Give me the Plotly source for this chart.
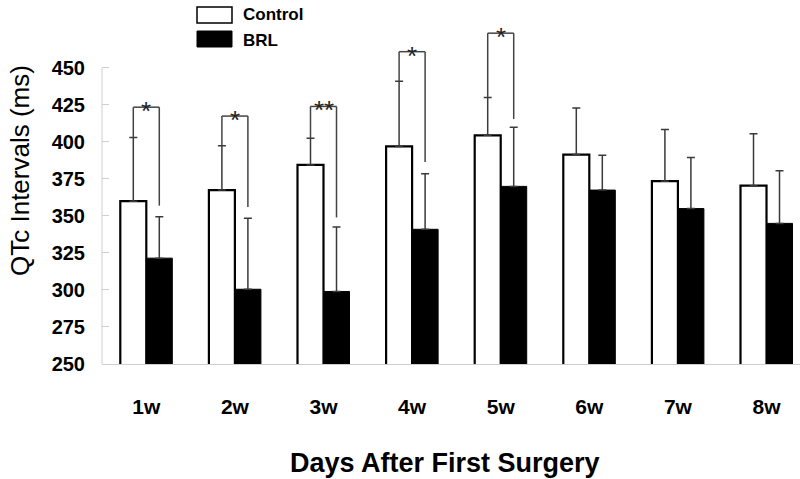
import plotly.graph_objects as go

weeks = ["1w", "2w", "3w", "4w", "5w", "6w", "7w", "8w"]
control_mean = [360, 367.5, 384.5, 397, 404.5, 391.5, 373.5, 370.5]
control_sd = [43, 30, 18, 44, 25.5, 31.5, 35, 35]
brl_mean = [321.5, 300.5, 299, 341, 370, 367.5, 355, 345]
brl_sd = [28, 48, 43.5, 37.5, 40, 23.5, 34.5, 35.5]
sig_labels = ["*", "*", "**", "*", "*"]
sig_top = [423.5, 417.5, 424, 461, 473.5]
sig_right_end = [357, 356, 349, 386.5, 415.5]
y_ticks = [250, 275, 300, 325, 350, 375, 400, 425, 450]

FONT = "Liberation Sans, Arial, sans-serif"
BARGAP = 0.413
OFF = (1 - BARGAP) / 4
x_idx = list(range(len(weeks)))

fig = go.Figure()
err_style = dict(type="data", symmetric=False, arrayminus=[0] * len(weeks),
                 color="#3a3a3a", thickness=1.5, width=4)
fig.add_trace(go.Bar(
    x=x_idx, y=control_mean, name="Control",
    marker=dict(color="white", line=dict(color="black", width=2.2)),
    error_y=dict(array=control_sd, **err_style), showlegend=False))
fig.add_trace(go.Bar(
    x=x_idx, y=brl_mean, name="BRL",
    marker=dict(color="black", line=dict(color="black", width=1)),
    error_y=dict(array=brl_sd, **err_style), showlegend=False))

shapes = []
annotations = []
line_style = dict(color="#444444", width=1.5)
for i, lab in enumerate(sig_labels):
    xl = i - OFF
    xr = i + OFF
    y0 = control_mean[i] + control_sd[i]
    top = sig_top[i]
    shapes.append(dict(type="line", xref="x", yref="y", x0=xl, x1=xl, y0=y0, y1=top, line=line_style))
    shapes.append(dict(type="line", xref="x", yref="y", x0=xl, x1=xr, y0=top, y1=top, line=line_style))
    shapes.append(dict(type="line", xref="x", yref="y", x0=xr, x1=xr, y0=top, y1=sig_right_end[i], line=line_style))
    annotations.append(dict(x=i, y=top, xref="x", yref="y", text=lab, showarrow=False,
                            font=dict(family=FONT, size=26, color="#222"), yanchor="middle", yshift=-4))

# y axis line (only over tick range)
shapes.append(dict(type="line", xref="paper", yref="y", x0=0, x1=0, y0=y_ticks[0], y1=y_ticks[-1],
                   line=dict(color="#cfcfcf", width=1)))

# legend
W, H = 800, 479
ML, MR, MT, MB = 102, 0, 20, 115
pw, ph = W - ML - MR, H - MT - MB
def px(x):
    return (x - ML) / pw
def py(y):
    return (H - MB - y) / ph
shapes.append(dict(type="rect", xref="paper", yref="paper", x0=px(197), x1=px(232), y0=py(23), y1=py(7),
                   fillcolor="white", line=dict(color="black", width=1.5)))
shapes.append(dict(type="rect", xref="paper", yref="paper", x0=px(197), x1=px(232), y0=py(47), y1=py(31),
                   fillcolor="black", line=dict(color="black", width=1)))
annotations.append(dict(x=px(241), y=py(15), xref="paper", yref="paper", text="<b>Control</b>",
                        showarrow=False, xanchor="left", yanchor="middle",
                        font=dict(family=FONT, size=17, color="black")))
annotations.append(dict(x=px(241), y=py(40), xref="paper", yref="paper", text="<b>BRL</b>",
                        showarrow=False, xanchor="left", yanchor="middle",
                        font=dict(family=FONT, size=17, color="black")))

# axis titles
annotations.append(dict(x=px(20), y=py(171), xref="paper", yref="paper", text="QTc Intervals (ms)",
                        textangle=-90, showarrow=False, xanchor="center", yanchor="middle",
                        font=dict(family=FONT, size=26, color="black")))
annotations.append(dict(x=px(445), y=py(463), xref="paper", yref="paper", text="<b>Days After First Surgery</b>",
                        showarrow=False, xanchor="center", yanchor="middle",
                        font=dict(family=FONT, size=27, color="black")))

fig.update_layout(
    width=W, height=H,
    margin=dict(l=ML, r=MR, t=MT, b=MB),
    plot_bgcolor="white", paper_bgcolor="white",
    barmode="group", bargap=BARGAP, bargroupgap=0,
    shapes=shapes, annotations=annotations,
    font=dict(family=FONT, color="black"),
)
fig.update_xaxes(
    range=[-0.5, 7.378],
    tickvals=x_idx, ticktext=["<b>%s</b>" % w for w in weeks],
    tickfont=dict(family=FONT, size=21, color="black"),
    showline=True, linecolor="#cfcfcf", linewidth=1,
    ticks="", showgrid=False, zeroline=False, ticklabelstandoff=24,
)
fig.update_yaxes(
    range=[250, 482.4],
    tickvals=y_ticks, ticktext=["<b>%d</b>" % v for v in y_ticks],
    tickfont=dict(family=FONT, size=20, color="black"),
    ticks="inside", ticklen=7, tickcolor="#cfcfcf", tickwidth=1,
    showline=False, showgrid=False, zeroline=False, ticklabelstandoff=16,
)

fig.write_html("out.html", config={"displayModeBar": False})
with open("out.html", "r", encoding="utf-8") as f:
    html = f.read()
html = html.replace("<body>", '<body style="margin:0;padding:0;overflow:hidden">', 1)
with open("out.html", "w", encoding="utf-8") as f:
    f.write(html)
